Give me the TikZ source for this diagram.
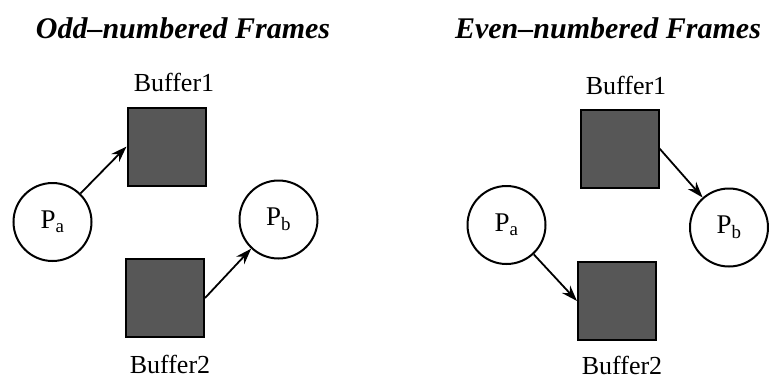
\documentclass[tikz,border=0pt]{standalone}
\usepackage{fontspec}
\setmainfont{Liberation Serif}
\usetikzlibrary{arrows.meta}
\begin{document}
\begin{tikzpicture}[x=1pt,y=-1pt,
  buf/.style={draw=black, line width=2pt, fill=black!66, minimum size=78pt, inner sep=0pt},
  proc/.style={draw=black, line width=2pt, circle, fill=white, minimum size=78pt, inner sep=0pt, font=\fontsize{27}{30}\selectfont},
  lbl/.style={font=\fontsize{26}{30}\selectfont, inner sep=0pt},
  ttl/.style={font=\fontsize{30}{34}\selectfont\bfseries\itshape, inner sep=0pt},
  conn/.style={line width=1.8pt, -{Stealth[length=16pt,width=11pt]}}
]
\useasboundingbox (0,0) rectangle (769,381);
% left panel
\node[ttl] (t1) at (183,28) {Odd--numbered Frames};
\node[lbl] (lb1) at (174,82) {Buffer1};
\node[buf] (b1) at (166.5,146.5) {};
\node[buf] (b2) at (165,298) {};
\node[lbl] (lb2) at (170,364) {Buffer2};
\node[proc] (pa) at (52.5,222) {P$_{\mathrm{a}}$};
\node[proc] (pb) at (278.5,219.5) {P$_{\mathrm{b}}$};
\draw[conn] (pa) -- (b1.west);
\draw[conn] (b2.east) -- (pb);
% right panel
\node[ttl] (t2) at (608,28) {Even--numbered Frames};
\node[lbl] (rb1l) at (626,85) {Buffer1};
\node[buf] (rb1) at (619.5,148.5) {};
\node[buf] (rb2) at (617,301) {};
\node[lbl] (rb2l) at (622,365) {Buffer2};
\node[proc] (rpa) at (506.5,225) {P$_{\mathrm{a}}$};
\node[proc] (rpb) at (729,227.5) {P$_{\mathrm{b}}$};
\draw[conn] (rb1.east) -- (rpb);
\draw[conn] (rpa) -- (rb2.west);
\end{tikzpicture}
\end{document}
